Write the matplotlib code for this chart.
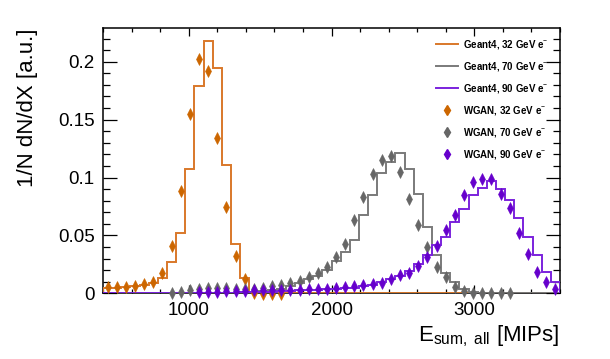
import numpy as np
import matplotlib
matplotlib.use('Agg')
import matplotlib.pyplot as plt
from matplotlib.ticker import MultipleLocator, FuncFormatter
from matplotlib.lines import Line2D

plt.rcParams['font.family'] = ['Liberation Sans', 'DejaVu Sans']
plt.rcParams['mathtext.fontset'] = 'custom'
plt.rcParams['mathtext.rm'] = 'Liberation Sans'
plt.rcParams['mathtext.it'] = 'Liberation Sans:italic'
plt.rcParams['mathtext.bf'] = 'Liberation Sans:bold'

# binning: 50 bins of 64 MIPs from 400 to 3600
x_lo, x_hi, n_bins = 400, 3600, 50

# Geant4 histograms (one value per bin)
g4_32 = [0.005, 0.005, 0.0055, 0.006, 0.007, 0.009, 0.0135, 0.0268, 0.0518, 0.1073,
         0.179, 0.218, 0.195, 0.111, 0.043, 0.013, 0.0015, 0, 0, 0,
         0, 0, 0, 0, 0, 0, 0, 0, 0, 0,
         0, 0, 0, 0, 0, 0, 0, 0, 0, 0,
         0, 0, 0, 0, 0, 0, 0, 0, 0, 0]
g4_70 = [0, 0, 0, 0, 0, 0, 0, 0, 0, 0,
         0, 0, 0, 0, 0, 0.001, 0.0015, 0.002, 0.003, 0.004,
         0.006, 0.009, 0.012, 0.015, 0.020, 0.028, 0.0354, 0.046, 0.0676, 0.0849,
         0.1036, 0.1131, 0.1209, 0.1073, 0.0855, 0.0575, 0.0331, 0.0173, 0.0095, 0.0037,
         0.0014, 0, 0, 0, 0, 0, 0, 0, 0, 0]
g4_90 = [0, 0, 0, 0, 0, 0, 0, 0, 0, 0,
         0.0005, 0.0005, 0.0005, 0.0005, 0.0005, 0.001, 0.001, 0.0015, 0.0015, 0.002,
         0.002, 0.0025, 0.003, 0.003, 0.0035, 0.004, 0.0045, 0.005, 0.006, 0.0075,
         0.0095, 0.012, 0.015, 0.019, 0.025, 0.033, 0.0417, 0.0489, 0.0618, 0.0725,
         0.0849, 0.0907, 0.097, 0.09, 0.0806, 0.0653, 0.0489, 0.0331, 0.0181, 0.010]

# WGAN points, given from a first bin onward
wgan_32_start = 0
wgan_32 = [0.0052, 0.0057, 0.0057, 0.0066, 0.0078, 0.0095, 0.0173, 0.0408, 0.0886, 0.1546,
           0.202, 0.192, 0.134, 0.0748, 0.0322, 0.012, 0.0, -0.001, -0.001, -0.0005]
wgan_70_start = 7
wgan_70 = [0.0, 0.001, 0.003, 0.004, 0.0045, 0.0045, 0.0045, 0.004, 0.004, 0.004,
           0.005, 0.006, 0.0075, 0.009, 0.011, 0.0138, 0.0173, 0.0228, 0.031, 0.0429,
           0.0632, 0.083, 0.1032, 0.1148, 0.1186, 0.105, 0.0812, 0.0588, 0.040, 0.0225,
           0.0138, 0.0057, 0.0023, 0, 0, 0, 0, 0]
wgan_90_start = 10
wgan_90 = [0.0014, 0.0014, 0.0015, 0.0018, 0.002, 0.0022, 0.0025, 0.0029, 0.0029, 0.0029,
           0.003, 0.003, 0.0035, 0.004, 0.004, 0.0049, 0.0058, 0.0066, 0.0069, 0.008,
           0.0086, 0.012, 0.0158, 0.0178, 0.0236, 0.0316, 0.0405, 0.0545, 0.0676, 0.0853,
           0.096, 0.099, 0.099, 0.0856, 0.0734, 0.0518, 0.0338, 0.0187, 0.0094, 0.004]

labels_g4 = ['Geant4, 32 GeV e$^{-}$', 'Geant4, 70 GeV e$^{-}$', 'Geant4, 90 GeV e$^{-}$']
labels_wgan = ['WGAN, 32 GeV e$^{-}$', 'WGAN, 70 GeV e$^{-}$', 'WGAN, 90 GeV e$^{-}$']
line_colors = ['#d9782a', '#7a7a7a', '#7b22dd']
marker_colors = ['#cc6600', '#666666', '#6600cc']

edges = np.linspace(x_lo, x_hi, n_bins + 1)
centers = 0.5 * (edges[:-1] + edges[1:])

fig = plt.figure(figsize=(6.1, 3.59), dpi=100)
ax = fig.add_axes([0.1689, 0.183, 0.7491, 0.738])

for vals, col in zip([g4_32, g4_70, g4_90], line_colors):
    ax.stairs(vals, edges, color=col, lw=1.4, zorder=3)

wgan = [(wgan_32_start, wgan_32), (wgan_70_start, wgan_70), (wgan_90_start, wgan_90)]
for (start, vals), col in zip(wgan, marker_colors):
    xs = centers[start:start + len(vals)]
    ax.plot(xs, vals, ls='none', marker='d', ms=5.8, color=col, mec=col, mew=0.4,
            zorder=4, clip_on=False)

ax.set_xlim(x_lo, x_hi)
ax.set_ylim(0, 0.2288)

ax.xaxis.set_major_locator(MultipleLocator(1000))
ax.xaxis.set_minor_locator(MultipleLocator(200))
ax.yaxis.set_major_locator(MultipleLocator(0.05))
ax.yaxis.set_minor_locator(MultipleLocator(0.01))
ax.yaxis.set_major_formatter(FuncFormatter(lambda v, p: '%g' % round(v, 3)))

ax.tick_params(which='both', direction='in', top=True, right=True, width=0.9,
               labelsize=13.5, pad=6)
ax.tick_params(axis='x', which='major', length=5.8)
ax.tick_params(axis='x', which='minor', length=2.9)
ax.tick_params(axis='y', which='major', length=10)
ax.tick_params(axis='y', which='minor', length=5)
for s in ax.spines.values():
    s.set_linewidth(1.1)

fig.text(0.918, 0.0501, r'E$_{\mathrm{sum,\ all}}$ [MIPs]', ha='right', va='baseline',
         fontsize=16)
fig.text(0.045, 0.921, '1/N dN/dX [a.u.]', rotation=90, ha='center', va='top',
         fontsize=16)

handles = [Line2D([], [], color=c, lw=1.4) for c in line_colors]
handles += [Line2D([], [], ls='none', marker='d', ms=5, color=c) for c in marker_colors]
leg = ax.legend(handles, labels_g4 + labels_wgan, loc='upper left',
                bbox_to_anchor=(436 / 610, 1 - 38 / 359), bbox_transform=fig.transFigure,
                frameon=False, borderpad=0, borderaxespad=0, handlelength=2.3,
                handletextpad=0.45, labelspacing=0.92, prop={'size': 7, 'weight': 'bold'})

plt.savefig('out.png', dpi=100)
